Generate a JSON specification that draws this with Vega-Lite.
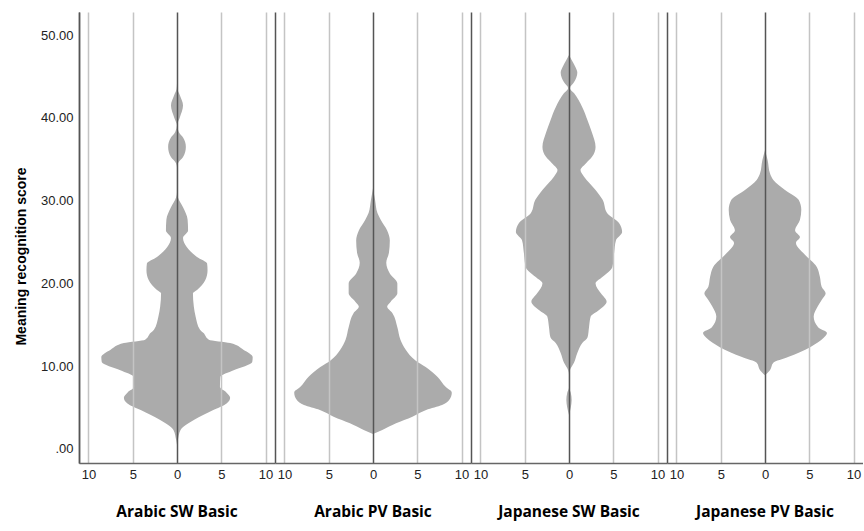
{
  "$schema": "https://vega.github.io/schema/vega-lite/v6.json",
  "background": "white",
  "padding": {"left": 14, "top": 12, "right": 0, "bottom": 0},
  "data": {"values": [
    {"g": "Arabic SW Basic", "s": 0.5, "f": 0},
    {"g": "Arabic SW Basic", "s": 1.1, "f": 0.1},
    {"g": "Arabic SW Basic", "s": 2.3, "f": 0.4},
    {"g": "Arabic SW Basic", "s": 3.5, "f": 1.9},
    {"g": "Arabic SW Basic", "s": 4.7, "f": 4.1},
    {"g": "Arabic SW Basic", "s": 5.5, "f": 5.6},
    {"g": "Arabic SW Basic", "s": 6.2, "f": 6.0},
    {"g": "Arabic SW Basic", "s": 6.8, "f": 5.6},
    {"g": "Arabic SW Basic", "s": 7.5, "f": 4.85},
    {"g": "Arabic SW Basic", "s": 8.7, "f": 4.9},
    {"g": "Arabic SW Basic", "s": 9.5, "f": 6.4},
    {"g": "Arabic SW Basic", "s": 10.5, "f": 8.5},
    {"g": "Arabic SW Basic", "s": 11.1, "f": 8.55},
    {"g": "Arabic SW Basic", "s": 12.0, "f": 7.5},
    {"g": "Arabic SW Basic", "s": 12.8, "f": 6.0},
    {"g": "Arabic SW Basic", "s": 13.2, "f": 3.6},
    {"g": "Arabic SW Basic", "s": 14.0, "f": 3.0},
    {"g": "Arabic SW Basic", "s": 14.4, "f": 2.6},
    {"g": "Arabic SW Basic", "s": 16.0, "f": 2.1},
    {"g": "Arabic SW Basic", "s": 17.2, "f": 1.9},
    {"g": "Arabic SW Basic", "s": 18.8, "f": 1.8},
    {"g": "Arabic SW Basic", "s": 19.2, "f": 2.26},
    {"g": "Arabic SW Basic", "s": 20.4, "f": 3.2},
    {"g": "Arabic SW Basic", "s": 21.6, "f": 3.45},
    {"g": "Arabic SW Basic", "s": 22.4, "f": 3.4},
    {"g": "Arabic SW Basic", "s": 23.2, "f": 2.26},
    {"g": "Arabic SW Basic", "s": 24.4, "f": 1.1},
    {"g": "Arabic SW Basic", "s": 25.5, "f": 0.68},
    {"g": "Arabic SW Basic", "s": 26.4, "f": 1.25},
    {"g": "Arabic SW Basic", "s": 27.7, "f": 1.2},
    {"g": "Arabic SW Basic", "s": 29.2, "f": 0.68},
    {"g": "Arabic SW Basic", "s": 30.4, "f": 0.1},
    {"g": "Arabic SW Basic", "s": 31.0, "f": 0.02},
    {"g": "Arabic SW Basic", "s": 34.0, "f": 0.02},
    {"g": "Arabic SW Basic", "s": 34.5, "f": 0.1},
    {"g": "Arabic SW Basic", "s": 35.3, "f": 0.7},
    {"g": "Arabic SW Basic", "s": 36.5, "f": 1.0},
    {"g": "Arabic SW Basic", "s": 37.6, "f": 0.7},
    {"g": "Arabic SW Basic", "s": 38.3, "f": 0.2},
    {"g": "Arabic SW Basic", "s": 39.1, "f": 0.02},
    {"g": "Arabic SW Basic", "s": 40.0, "f": 0.3},
    {"g": "Arabic SW Basic", "s": 41.5, "f": 0.68},
    {"g": "Arabic SW Basic", "s": 42.8, "f": 0.3},
    {"g": "Arabic SW Basic", "s": 43.5, "f": 0.05},
    {"g": "Arabic SW Basic", "s": 44.2, "f": 0},

    {"g": "Arabic PV Basic", "s": 1.8, "f": 0},
    {"g": "Arabic PV Basic", "s": 2.3, "f": 1.05},
    {"g": "Arabic PV Basic", "s": 3.1, "f": 2.6},
    {"g": "Arabic PV Basic", "s": 3.9, "f": 4.45},
    {"g": "Arabic PV Basic", "s": 4.7, "f": 6.0},
    {"g": "Arabic PV Basic", "s": 5.3, "f": 7.8},
    {"g": "Arabic PV Basic", "s": 5.9, "f": 8.6},
    {"g": "Arabic PV Basic", "s": 6.8, "f": 8.9},
    {"g": "Arabic PV Basic", "s": 7.5, "f": 8.2},
    {"g": "Arabic PV Basic", "s": 8.7, "f": 7.3},
    {"g": "Arabic PV Basic", "s": 9.9, "f": 5.95},
    {"g": "Arabic PV Basic", "s": 10.7, "f": 4.8},
    {"g": "Arabic PV Basic", "s": 12.0, "f": 3.7},
    {"g": "Arabic PV Basic", "s": 13.2, "f": 3.1},
    {"g": "Arabic PV Basic", "s": 14.7, "f": 2.75},
    {"g": "Arabic PV Basic", "s": 16.4, "f": 2.2},
    {"g": "Arabic PV Basic", "s": 17.2, "f": 1.6},
    {"g": "Arabic PV Basic", "s": 17.8, "f": 2.0},
    {"g": "Arabic PV Basic", "s": 18.8, "f": 2.75},
    {"g": "Arabic PV Basic", "s": 20.0, "f": 2.75},
    {"g": "Arabic PV Basic", "s": 21.2, "f": 1.9},
    {"g": "Arabic PV Basic", "s": 22.5, "f": 1.5},
    {"g": "Arabic PV Basic", "s": 23.7, "f": 1.8},
    {"g": "Arabic PV Basic", "s": 25.2, "f": 1.9},
    {"g": "Arabic PV Basic", "s": 26.4, "f": 1.6},
    {"g": "Arabic PV Basic", "s": 27.7, "f": 0.87},
    {"g": "Arabic PV Basic", "s": 28.5, "f": 0.5},
    {"g": "Arabic PV Basic", "s": 30.1, "f": 0.23},
    {"g": "Arabic PV Basic", "s": 31.5, "f": 0},

    {"g": "Japanese SW Basic", "s": 4.1, "f": 0},
    {"g": "Japanese SW Basic", "s": 5.0, "f": 0.2},
    {"g": "Japanese SW Basic", "s": 5.9, "f": 0.3},
    {"g": "Japanese SW Basic", "s": 6.8, "f": 0.2},
    {"g": "Japanese SW Basic", "s": 7.4, "f": 0.02},
    {"g": "Japanese SW Basic", "s": 9.0, "f": 0.02},
    {"g": "Japanese SW Basic", "s": 9.5, "f": 0.1},
    {"g": "Japanese SW Basic", "s": 10.4, "f": 0.56},
    {"g": "Japanese SW Basic", "s": 11.6, "f": 0.94},
    {"g": "Japanese SW Basic", "s": 12.8, "f": 1.5},
    {"g": "Japanese SW Basic", "s": 13.5, "f": 2.1},
    {"g": "Japanese SW Basic", "s": 14.7, "f": 2.26},
    {"g": "Japanese SW Basic", "s": 16.0, "f": 2.45},
    {"g": "Japanese SW Basic", "s": 16.8, "f": 3.4},
    {"g": "Japanese SW Basic", "s": 17.8, "f": 4.25},
    {"g": "Japanese SW Basic", "s": 18.8, "f": 3.6},
    {"g": "Japanese SW Basic", "s": 20.0, "f": 3.0},
    {"g": "Japanese SW Basic", "s": 20.8, "f": 3.8},
    {"g": "Japanese SW Basic", "s": 22.0, "f": 4.9},
    {"g": "Japanese SW Basic", "s": 23.7, "f": 5.1},
    {"g": "Japanese SW Basic", "s": 25.2, "f": 5.3},
    {"g": "Japanese SW Basic", "s": 26.2, "f": 6.0},
    {"g": "Japanese SW Basic", "s": 27.3, "f": 5.65},
    {"g": "Japanese SW Basic", "s": 28.5, "f": 4.3},
    {"g": "Japanese SW Basic", "s": 30.1, "f": 3.8},
    {"g": "Japanese SW Basic", "s": 31.3, "f": 3.0},
    {"g": "Japanese SW Basic", "s": 32.9, "f": 1.7},
    {"g": "Japanese SW Basic", "s": 33.7, "f": 1.3},
    {"g": "Japanese SW Basic", "s": 34.5, "f": 1.9},
    {"g": "Japanese SW Basic", "s": 35.3, "f": 2.6},
    {"g": "Japanese SW Basic", "s": 36.5, "f": 3.0},
    {"g": "Japanese SW Basic", "s": 38.2, "f": 2.6},
    {"g": "Japanese SW Basic", "s": 39.7, "f": 2.1},
    {"g": "Japanese SW Basic", "s": 41.3, "f": 1.5},
    {"g": "Japanese SW Basic", "s": 43.0, "f": 0.56},
    {"g": "Japanese SW Basic", "s": 43.6, "f": 0.1},
    {"g": "Japanese SW Basic", "s": 44.3, "f": 0.56},
    {"g": "Japanese SW Basic", "s": 45.5, "f": 0.94},
    {"g": "Japanese SW Basic", "s": 46.1, "f": 0.75},
    {"g": "Japanese SW Basic", "s": 47.0, "f": 0.3},
    {"g": "Japanese SW Basic", "s": 47.6, "f": 0},

    {"g": "Japanese PV Basic", "s": 8.9, "f": 0},
    {"g": "Japanese PV Basic", "s": 9.5, "f": 0.56},
    {"g": "Japanese PV Basic", "s": 10.4, "f": 0.94},
    {"g": "Japanese PV Basic", "s": 11.1, "f": 2.6},
    {"g": "Japanese PV Basic", "s": 12.3, "f": 5.1},
    {"g": "Japanese PV Basic", "s": 13.4, "f": 6.6},
    {"g": "Japanese PV Basic", "s": 14.0, "f": 7.0},
    {"g": "Japanese PV Basic", "s": 14.7, "f": 6.0},
    {"g": "Japanese PV Basic", "s": 16.0, "f": 5.5},
    {"g": "Japanese PV Basic", "s": 17.2, "f": 5.95},
    {"g": "Japanese PV Basic", "s": 18.0, "f": 6.4},
    {"g": "Japanese PV Basic", "s": 18.8, "f": 6.85},
    {"g": "Japanese PV Basic", "s": 19.6, "f": 6.4},
    {"g": "Japanese PV Basic", "s": 20.8, "f": 6.2},
    {"g": "Japanese PV Basic", "s": 22.0, "f": 5.85},
    {"g": "Japanese PV Basic", "s": 23.7, "f": 4.3},
    {"g": "Japanese PV Basic", "s": 24.9, "f": 3.5},
    {"g": "Japanese PV Basic", "s": 25.6, "f": 3.95},
    {"g": "Japanese PV Basic", "s": 26.4, "f": 3.4},
    {"g": "Japanese PV Basic", "s": 27.7, "f": 3.95},
    {"g": "Japanese PV Basic", "s": 28.9, "f": 4.1},
    {"g": "Japanese PV Basic", "s": 30.1, "f": 3.8},
    {"g": "Japanese PV Basic", "s": 31.3, "f": 2.26},
    {"g": "Japanese PV Basic", "s": 32.5, "f": 0.94},
    {"g": "Japanese PV Basic", "s": 33.3, "f": 0.56},
    {"g": "Japanese PV Basic", "s": 34.9, "f": 0.3},
    {"g": "Japanese PV Basic", "s": 36.1, "f": 0}
  ]},
  "facet": {
    "column": {
      "field": "g",
      "type": "nominal",
      "sort": ["Arabic SW Basic", "Arabic PV Basic", "Japanese SW Basic", "Japanese PV Basic"],
      "header": {
        "title": null,
        "labelOrient": "bottom",
        "labelFont": "Open Sans",
        "labelFontSize": 15.5,
        "labelFontWeight": "bold",
        "labelColor": "#000000",
        "labelPadding": 24
      }
    }
  },
  "spacing": 0,
  "resolve": {"scale": {"x": "independent"}},
  "spec": {
    "width": 196,
    "height": 451,
    "layer": [
      {
        "mark": {"type": "area", "orient": "horizontal", "interpolate": "monotone", "color": "#ababab", "opacity": 1},
        "encoding": {
          "y": {
            "field": "s", "type": "quantitative",
            "scale": {"domain": [-1.7, 52.8], "nice": false, "zero": false},
            "title": "Meaning recognition score",
            "axis": {
              "values": [0, 10, 20, 30, 40, 50],
              "labelExpr": "datum.value == 0 ? '.00' : format(datum.value, '.2f')",
              "ticks": false,
              "grid": false,
              "domainColor": "#666666",
              "domainWidth": 1.5,
              "labelFont": "Liberation Sans",
              "labelFontSize": 13,
              "labelColor": "#222222",
              "labelPadding": 6,
              "titleFont": "Liberation Sans",
              "titleFontSize": 14,
              "titleFontWeight": "bold",
              "titleColor": "#000000",
              "titlePadding": 12,
              "titleY": 244
            }
          },
          "x": {
            "field": "f", "type": "quantitative", "stack": null,
            "scale": {"domain": [-11.07, 11.07], "nice": false, "zero": false},
            "title": null,
            "axis": {
              "values": [-11.07, -10, -5, 0, 5, 10],
              "labelExpr": "abs(datum.value) > 11 ? '' : format(abs(datum.value), 'd')",
              "ticks": false,
              "grid": true,
              "gridColor": {"condition": {"test": "datum.value == 0 || abs(datum.value) > 11", "value": "#555555"}, "value": "#c4c4c4"},
              "gridWidth": 1.5,
              "domainColor": "#666666",
              "domainWidth": 1.5,
              "labelFont": "Liberation Sans",
              "labelFontSize": 13,
              "labelColor": "#222222",
              "labelPadding": 5,
              "zindex": 1
            }
          }
        }
      },
      {
        "mark": {"type": "area", "orient": "horizontal", "interpolate": "monotone", "color": "#ababab", "opacity": 1},
        "encoding": {
          "y": {"field": "s", "type": "quantitative", "scale": {"domain": [-1.7, 52.8], "nice": false, "zero": false}},
          "x": {
            "field": "f", "type": "quantitative", "stack": null,
            "scale": {"domain": [-11.07, 11.07], "nice": false, "zero": false, "reverse": true},
            "axis": null
          }
        }
      }
    ],
    "resolve": {"scale": {"x": "independent"}}
  },
  "config": {"view": {"stroke": null}}
}
